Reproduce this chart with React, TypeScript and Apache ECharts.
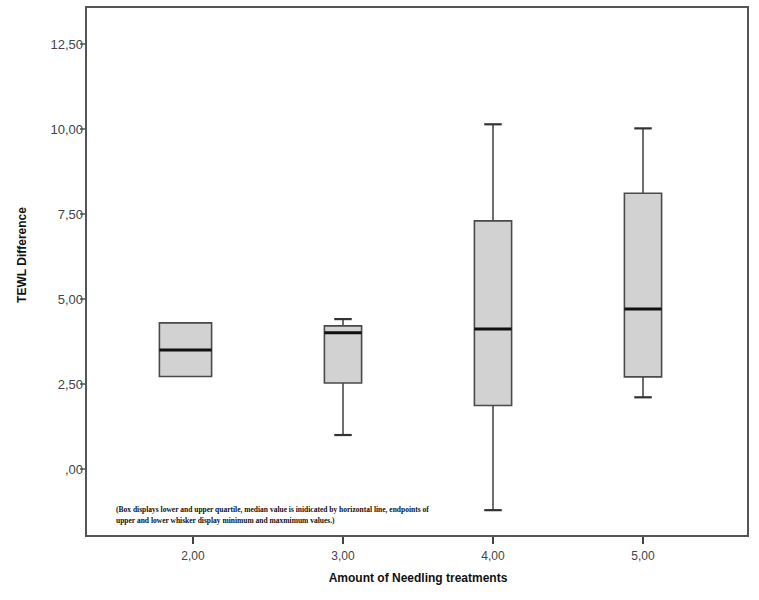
import React, { useEffect, useRef } from "react";
import * as echarts from "echarts";

const categories = ["2,00", "3,00", "4,00", "5,00"];
const minValues = [2.72, 1.0, -1.21, 2.11];
const q1Values = [2.72, 2.53, 1.87, 2.71];
const medianValues = [3.5, 4.01, 4.12, 4.71];
const q3Values = [4.3, 4.21, 7.3, 8.11];
const maxValues = [4.3, 4.41, 10.14, 10.02];
const yTickValues = [0, 2.5, 5, 7.5, 10, 12.5];
const yTickLabels = [",00", "2,50", "5,00", "7,50", "10,00", "12,50"];

const footnote =
  "(Box displays lower and upper quartile, median value is inidicated by horizontal line, endpoints of\nupper and lower whisker display minimum and maxmimum values.)";

// styling: extra box width on the left side (px), as drawn in the source figure
const boxLeftExtraPx = [15, 0, 0, 0];

export default function App() {
  const ref = useRef<HTMLDivElement>(null);
  useEffect(() => {
    if (!ref.current) return;
    const chart = echarts.init(ref.current, undefined, { renderer: "svg" });
    const data = categories.map((_, i) => [
      i,
      minValues[i],
      q1Values[i],
      medianValues[i],
      q3Values[i],
      maxValues[i],
    ]);
    const border = "#4a4a4a";
    chart.setOption({
      animation: false,
      backgroundColor: "#ffffff",
      grid: { left: 118, right: 41, top: 7, bottom: 64 },
      xAxis: {
        type: "category",
        data: categories,
        boundaryGap: true,
        position: "bottom",
        axisLine: { show: true, onZero: false, lineStyle: { color: "#555", width: 2 } },
        axisTick: {
          show: true,
          alignWithLabel: true,
          interval: 0,
          length: 8,
          lineStyle: { color: "#444", width: 2 },
        },
        axisLabel: {
          color: "#444",
          fontSize: 12,
          fontFamily: "Liberation Sans",
          margin: 14,
        },
        splitLine: { show: false },
      },
      yAxis: {
        type: "value",
        min: -1.97,
        max: 13.59,
        offset: 32,
        axisLine: { show: false },
        axisTick: {
          show: true,
          length: 6,
          customValues: yTickValues,
          lineStyle: { color: "#555", width: 1.5 },
        },
        axisLabel: {
          customValues: yTickValues,
          formatter: (v: number) => {
            const idx = yTickValues.findIndex((t) => Math.abs(t - v) < 1e-6);
            return idx >= 0 ? yTickLabels[idx] : "";
          },
          color: "#444",
          fontSize: 13,
          fontFamily: "Liberation Sans",
          margin: 3,
        },
        splitLine: { show: false },
      },
      graphic: [
        {
          type: "rect",
          shape: { x: 86, y: 7, width: 662, height: 529 },
          style: { fill: "none", stroke: "#555", lineWidth: 2 },
          z: 100,
        },
        {
          type: "text",
          x: 22,
          y: 255,
          rotation: Math.PI / 2,
          style: {
            text: "TEWL Difference",
            font: 'bold 12px "Liberation Sans"',
            fill: "#111",
            textAlign: "center",
            textVerticalAlign: "middle",
          },
        },
        {
          type: "text",
          x: 418,
          y: 578,
          style: {
            text: "Amount of Needling treatments",
            font: 'bold 12px "Liberation Sans"',
            fill: "#111",
            textAlign: "center",
            textVerticalAlign: "middle",
          },
        },
        {
          type: "text",
          x: 116,
          y: 504,
          style: {
            text: footnote,
            font: 'bold 7.5px "Liberation Serif"',
            lineHeight: 11,
            fill: "#111",
            textAlign: "left",
            textVerticalAlign: "top",
          },
        },
      ],
      series: [
        {
          type: "custom",
          clip: false,
          data,
          encode: { x: 0, y: [1, 2, 3, 4, 5] },
          renderItem: (params: any, api: any) => {
            const i = api.value(0);
            const mn = api.value(1);
            const q1 = api.value(2);
            const md = api.value(3);
            const q3 = api.value(4);
            const mx = api.value(5);
            const pMin = api.coord([i, mn]);
            const pQ1 = api.coord([i, q1]);
            const pMd = api.coord([i, md]);
            const pQ3 = api.coord([i, q3]);
            const pMax = api.coord([i, mx]);
            const band = api.size([1, 0])[0];
            const hw = band * 0.124;
            const cw = hw * 0.47;
            const x = pMd[0];
            const left = x - hw - (boxLeftExtraPx[params.dataIndex] || 0);
            const right = x + hw;
            const children: any[] = [];
            const lineStyle = { stroke: border, lineWidth: 1.6 };
            if (mx > q3) {
              children.push({
                type: "line",
                shape: { x1: x, y1: pQ3[1], x2: x, y2: pMax[1] },
                style: lineStyle,
              });
              children.push({
                type: "line",
                shape: { x1: x - cw, y1: pMax[1], x2: x + cw, y2: pMax[1] },
                style: { stroke: "#333", lineWidth: 2.2 },
              });
            }
            if (mn < q1) {
              children.push({
                type: "line",
                shape: { x1: x, y1: pQ1[1], x2: x, y2: pMin[1] },
                style: lineStyle,
              });
              children.push({
                type: "line",
                shape: { x1: x - cw, y1: pMin[1], x2: x + cw, y2: pMin[1] },
                style: { stroke: "#333", lineWidth: 2.2 },
              });
            }
            children.push({
              type: "rect",
              shape: { x: left, y: pQ3[1], width: right - left, height: pQ1[1] - pQ3[1] },
              style: { fill: "#d2d2d2", stroke: border, lineWidth: 1.6 },
            });
            children.push({
              type: "line",
              shape: { x1: left, y1: pMd[1], x2: right, y2: pMd[1] },
              style: { stroke: "#111", lineWidth: 3 },
            });
            return { type: "group", children };
          },
        },
      ],
    });
    return () => chart.dispose();
  }, []);
  return (
    <div
      ref={ref}
      style={{ position: "fixed", left: 0, top: 0, width: 759, height: 600 }}
    />
  );
}
